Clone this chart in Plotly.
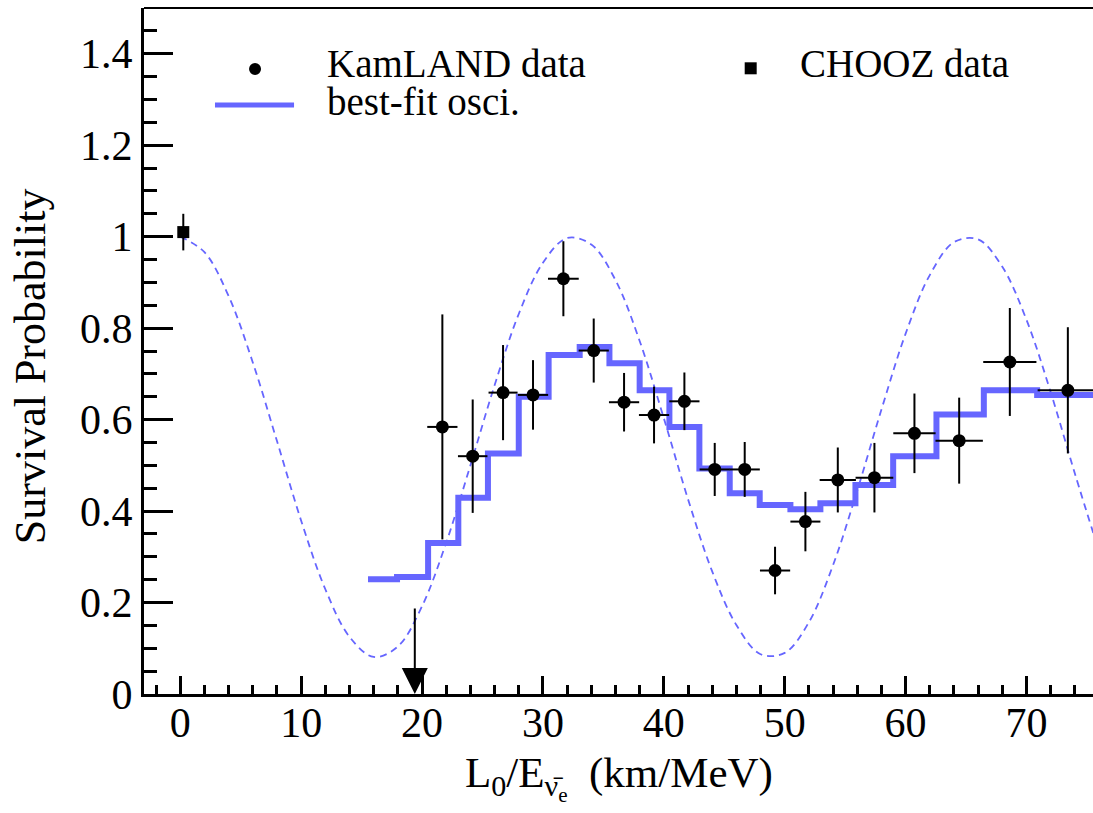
import plotly.graph_objects as go

# KamLAND data points: L0/E (km/MeV), survival probability, errors
kam_x = [21.68, 24.19, 26.70, 29.18, 31.69, 34.20, 36.71, 39.19, 41.70, 44.21,
         46.69, 49.20, 51.71, 54.39, 57.42, 60.73, 64.43, 68.62, 73.42]
kam_y = [0.584, 0.520, 0.659, 0.654, 0.908, 0.751, 0.638, 0.610, 0.640, 0.491,
         0.491, 0.270, 0.377, 0.468, 0.473, 0.570, 0.554, 0.726, 0.664]
kam_ey = [0.246, 0.124, 0.104, 0.076, 0.082, 0.070, 0.064, 0.062, 0.063, 0.058,
          0.060, 0.052, 0.065, 0.071, 0.076, 0.087, 0.094, 0.118, 0.138]
kam_ex = [1.25, 1.22, 1.20, 1.25, 1.27, 1.25, 1.25, 1.25, 1.25, 1.25,
          1.25, 1.25, 1.24, 1.50, 1.56, 1.75, 1.96, 2.20, 2.50]

# upper limit in the lowest L0/E bin
limit_x = [19.4]
limit_top = [0.19]

# CHOOZ point
chooz_x = [0.25]
chooz_y = [1.01]
chooz_ey = [0.04]

# best-fit oscillation, binned (bin edges and contents)
fit_edges = [15.53, 17.93, 20.50, 23.00, 25.45, 28.00, 30.47, 33.04, 35.50, 38.00,
             40.46, 42.94, 45.45, 47.93, 50.47, 52.95, 55.85, 58.97, 62.55, 66.47,
             70.88, 76.00]
fit_vals = [0.251, 0.256, 0.330, 0.429, 0.526, 0.650, 0.741, 0.759, 0.723, 0.664,
            0.584, 0.493, 0.439, 0.413, 0.404, 0.417, 0.457, 0.520, 0.611, 0.664,
            0.654]

# unbinned oscillation curve
osc_x = [0, 2, 4, 6, 8, 10, 12, 14, 16, 18, 20, 22, 24, 26, 28, 30, 32, 34, 36, 38,
         40, 42, 44, 46, 48, 50, 52, 54, 56, 58, 60, 62, 64, 66, 68, 70, 72, 74, 76]
osc_y = [1.000, 0.966, 0.870, 0.725, 0.553, 0.379, 0.229, 0.125, 0.081, 0.104,
         0.192, 0.331, 0.500, 0.675, 0.831, 0.943, 0.997, 0.983, 0.905, 0.772,
         0.603, 0.426, 0.268, 0.151, 0.087, 0.090, 0.157, 0.282, 0.445, 0.622,
         0.788, 0.916, 0.988, 0.994, 0.934, 0.818, 0.660, 0.482, 0.312]

x_ticks = [0, 10, 20, 30, 40, 50, 60, 70]
x_ticktext = ["0", "10", "20", "30", "40", "50", "60", "70"]
y_ticks = [0, 0.2, 0.4, 0.6, 0.8, 1.0, 1.2, 1.4]
y_ticktext = ["0", "0.2", "0.4", "0.6", "0.8", "1", "1.2", "1.4"]

BLUE = "#6666ff"
FONT = "Liberation Serif"

fig = go.Figure()

# dashed unbinned curve
fig.add_trace(go.Scatter(
    x=osc_x, y=osc_y, mode="lines",
    line=dict(color=BLUE, width=1.8, dash="7px,5px", shape="spline"),
    hoverinfo="skip", showlegend=False))

# stepped best-fit histogram
fig.add_trace(go.Scatter(
    x=fit_edges, y=fit_vals + [fit_vals[-1]], mode="lines",
    line=dict(color=BLUE, width=6, shape="hv"),
    showlegend=False))

# CHOOZ
fig.add_trace(go.Scatter(
    x=chooz_x, y=chooz_y, mode="markers",
    marker=dict(symbol="square", size=12, color="black"),
    error_y=dict(type="data", array=chooz_ey, color="black", thickness=2, width=0),
    showlegend=False))

# KamLAND
fig.add_trace(go.Scatter(
    x=kam_x, y=kam_y, mode="markers",
    marker=dict(symbol="circle", size=13, color="black"),
    error_y=dict(type="data", array=kam_ey, color="black", thickness=2, width=0),
    error_x=dict(type="data", array=kam_ex, color="black", thickness=2, width=0),
    showlegend=False))

# upper-limit arrow
for lx, lt in zip(limit_x, limit_top):
    fig.add_annotation(
        x=lx, y=0, ax=lx, ay=lt, xref="x", yref="y", axref="x", ayref="y",
        showarrow=True, arrowhead=2, arrowsize=2.6, arrowwidth=2,
        arrowcolor="black", text="")

# legend, drawn in paper coordinates
fig.add_shape(type="circle", xref="paper", yref="paper",
              xsizemode="pixel", ysizemode="pixel",
              xanchor=0.1170, yanchor=0.9111, x0=-6, x1=6, y0=-6, y1=6,
              fillcolor="black", line=dict(width=0))
fig.add_shape(type="line", xref="paper", yref="paper",
              x0=0.0748, x1=0.1581, y0=0.8586, y1=0.8586,
              line=dict(color=BLUE, width=5))
fig.add_shape(type="rect", xref="paper", yref="paper",
              xsizemode="pixel", ysizemode="pixel",
              xanchor=0.6393, yanchor=0.9121, x0=-6, x1=6, y0=-6, y1=6,
              fillcolor="black", line=dict(width=0))
for txt, xp, yp in [("KamLAND data", 0.1907, 0.9184),
                    ("best-fit osci.", 0.1907, 0.8630),
                    ("CHOOZ data", 0.6891, 0.9184)]:
    fig.add_annotation(x=xp, y=yp, xref="paper", yref="paper", text=txt,
                       showarrow=False, xanchor="left", yanchor="middle",
                       font=dict(family=FONT, size=39, color="black"))

# frame top edge
fig.add_shape(type="line", xref="paper", yref="paper", x0=0, x1=1, y0=1, y1=1,
              line=dict(color="black", width=2))

# axis titles
fig.add_annotation(x=0.5, y=-0.1225, xref="paper", yref="paper",
                   text="L<sub>0</sub>/E<sub>ν\u0304<sub>e</sub></sub>  (km/MeV)",
                   showarrow=False, xanchor="center", yanchor="middle",
                   font=dict(family=FONT, size=43, color="black"))
fig.add_annotation(x=-0.120, y=0.478, xref="paper", yref="paper",
                   text="Survival Probability", textangle=-90,
                   showarrow=False, xanchor="center", yanchor="middle",
                   font=dict(family=FONT, size=44, color="black"))

fig.update_layout(
    width=1093, height=813,
    margin=dict(l=144, r=0, t=8, b=119),
    paper_bgcolor="white", plot_bgcolor="white",
    font=dict(family=FONT, color="black"),
    showlegend=False,
    xaxis=dict(
        range=[-3, 75.5], showgrid=False, zeroline=False,
        showline=True, linewidth=3, linecolor="black",
        ticks="inside", ticklen=18, tickwidth=3, tickcolor="black",
        tickmode="array", tickvals=x_ticks, ticktext=x_ticktext,
        ticklabelstandoff=-10,
        tickfont=dict(family=FONT, size=42, color="black"),
        minor=dict(ticks="inside", ticklen=9, tickwidth=3, tickcolor="black",
                   dtick=2, tick0=0, showgrid=False),
    ),
    yaxis=dict(
        range=[0, 1.5], showgrid=False, zeroline=False,
        showline=True, linewidth=3, linecolor="black",
        ticks="inside", ticklen=29, tickwidth=3, tickcolor="black",
        tickmode="array", tickvals=y_ticks, ticktext=y_ticktext,
        tickfont=dict(family=FONT, size=42, color="black"),
        minor=dict(ticks="inside", ticklen=13, tickwidth=3, tickcolor="black",
                   dtick=0.05, tick0=0, showgrid=False),
    ),
)

fig.write_html("out.html")
